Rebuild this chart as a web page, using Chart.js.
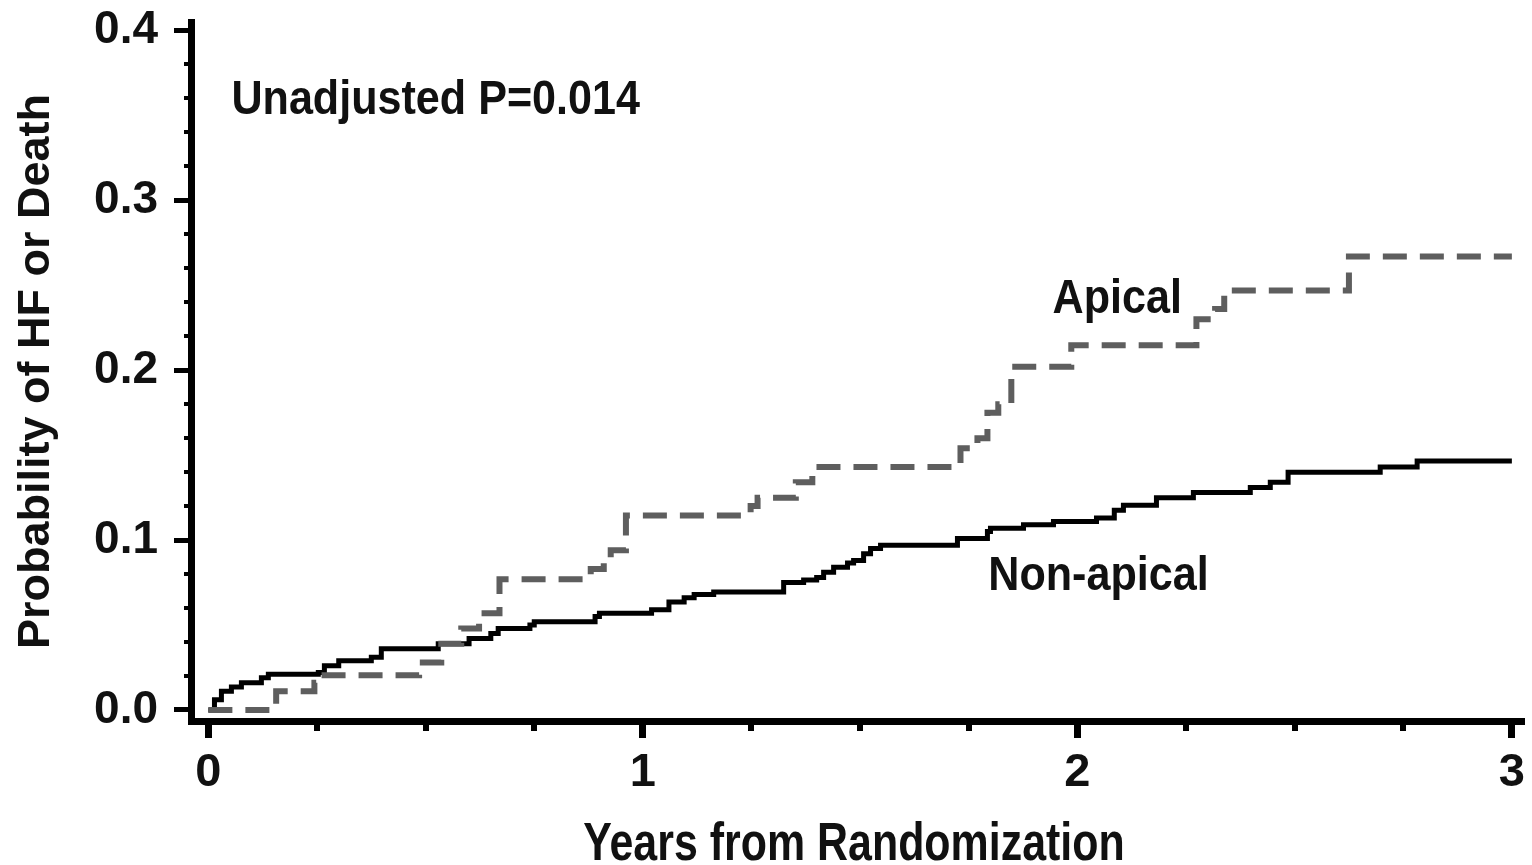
<!DOCTYPE html>
<html>
<head>
<meta charset="utf-8">
<script src="https://cdn.jsdelivr.net/npm/chart.js@4.4.1/dist/chart.umd.min.js"></script>
<style>
  html, body { margin: 0; padding: 0; background: #fff; }
</style>
</head>
<body>
<canvas id="km" width="1532" height="865"></canvas>
<script>
// axis ticks
const xTicks = [0, 1, 2, 3]
const yTicks = [0, 0.1, 0.2, 0.3, 0.4]
const xMinor = [0.25, 0.5, 0.75, 1.25, 1.5, 1.75, 2.25, 2.5, 2.75]
const yMinor = [0.02, 0.04, 0.06, 0.08, 0.12, 0.14, 0.16, 0.18, 0.22, 0.24, 0.26, 0.28, 0.32, 0.34, 0.36, 0.38]

// Apical (cumulative probability of HF or death, step after each event time)
const apicalT = [0, 0.156, 0.244, 0.256, 0.485, 0.536, 0.582, 0.623, 0.67, 0.88, 0.91, 0.926, 0.961,
  1.248, 1.264, 1.352, 1.39, 1.731, 1.77, 1.793, 1.818, 1.848, 1.986, 2.274, 2.317, 2.338, 2.625, 3.0]
const apicalP = [0, 0.011, 0.016, 0.0205, 0.028, 0.039, 0.048, 0.057, 0.077, 0.083, 0.088, 0.094, 0.1145,
  0.12, 0.125, 0.134, 0.143, 0.154, 0.16, 0.175, 0.18, 0.202, 0.2147, 0.23, 0.236, 0.247, 0.267, 0.267]

// Non-apical
const nonApicalT = [0, 0.014, 0.03, 0.053, 0.076, 0.122, 0.138, 0.253, 0.267, 0.30, 0.375, 0.398, 0.529, 0.60,
  0.65, 0.667, 0.74, 0.75, 0.89, 0.90, 1.02, 1.06, 1.095, 1.118, 1.163, 1.324, 1.37, 1.40, 1.416, 1.439,
  1.471, 1.485, 1.508, 1.524, 1.547, 1.724, 1.793, 1.80, 1.876, 1.945, 2.044, 2.085, 2.106, 2.182, 2.267,
  2.398, 2.444, 2.485, 2.697, 2.782, 3.0]
const nonApicalP = [0, 0.006, 0.011, 0.0135, 0.016, 0.019, 0.021, 0.022, 0.026, 0.029, 0.031, 0.036, 0.039, 0.042,
  0.045, 0.048, 0.050, 0.052, 0.055, 0.057, 0.059, 0.0635, 0.066, 0.068, 0.0695, 0.075, 0.0765, 0.078, 0.081, 0.084,
  0.0865, 0.088, 0.092, 0.095, 0.097, 0.101, 0.105, 0.107, 0.109, 0.111, 0.113, 0.1175, 0.1205, 0.125, 0.128,
  0.131, 0.134, 0.14, 0.143, 0.1465, 0.1465]

// text placed in the plot (data coords of left end / baseline)
const notes = [
  { text: "Unadjusted P=0.014", x: 0.053, y: 0.351 },
  { text: "Apical", x: 1.943, y: 0.2335 },
  { text: "Non-apical", x: 1.795, y: 0.0706 },
]
const xTitle = "Years from Randomization"

const SANS = "'Liberation Sans', Arial, sans-serif"

const toPoints = (ts, ps) => ts.map((t, i) => ({ x: t, y: ps[i] }))

// condensed bold text, the source figure uses a narrow face
function narrowText(ctx, text, x, y, size, squeeze, align) {
  ctx.save()
  ctx.font = `bold ${size}px ${SANS}`
  ctx.textBaseline = "alphabetic"
  ctx.textAlign = align
  ctx.translate(x, y)
  ctx.scale(squeeze, 1)
  ctx.fillText(text, 0, 0)
  ctx.restore()
}

const extras = {
  id: "extras",
  afterDraw(chart) {
    const { ctx, chartArea, scales: { x, y } } = chart
    ctx.save()
    ctx.fillStyle = "#000"
    xMinor.forEach(v => {
      const px = x.getPixelForValue(v)
      ctx.fillRect(Math.round(px) - 3, chartArea.bottom, 6, 10)
    })
    yMinor.forEach(v => {
      const py = y.getPixelForValue(v)
      ctx.fillRect(chartArea.left - 7, Math.round(py) - 2, 4, 4)
    })
    ctx.fillStyle = "#111"
    notes.forEach(n => narrowText(ctx, n.text, x.getPixelForValue(n.x), y.getPixelForValue(n.y), 49, 0.88, "left"))
    narrowText(ctx, xTitle, (chartArea.left + chartArea.right) / 2 - 4, 860, 53, 0.81, "center")
    ctx.restore()
  }
}

new Chart(document.getElementById("km"), {
  type: "line",
  data: {
    datasets: [
      {
        label: "Apical",
        data: toPoints(apicalT, apicalP),
        borderColor: "#5e5e5e",
        borderWidth: 6,
        borderDash: [24, 13],
        borderCapStyle: "butt",
        stepped: "before",
        pointRadius: 0,
        fill: false,
      },
      {
        label: "Non-apical",
        data: toPoints(nonApicalT, nonApicalP),
        borderColor: "#000",
        borderWidth: 5,
        stepped: "before",
        pointRadius: 0,
        fill: false,
      },
    ],
  },
  options: {
    responsive: false,
    animation: false,
    layout: { autoPadding: false, padding: { left: 0, top: 22, right: 7, bottom: 0 } },
    plugins: { legend: { display: false }, tooltip: { enabled: false } },
    scales: {
      x: {
        type: "linear",
        min: -0.04,
        max: 3.03,
        afterBuildTicks: s => { s.ticks = xTicks.map(v => ({ value: v })) },
        afterFit: s => { s.height = 144 },
        grid: { drawOnChartArea: false, tickLength: 17, tickWidth: 7, tickColor: "#000" },
        border: { color: "#000", width: 7 },
        ticks: {
          color: "#111",
          padding: 7,
          font: { family: SANS, size: 47, weight: "bold", lineHeight: 1.2 },
          callback: v => String(v),
        },
      },
      y: {
        min: -0.0065,
        max: 0.405,
        afterBuildTicks: s => { s.ticks = yTicks.map(v => ({ value: v })) },
        // fixed width, and no extra room reserved above the top label
        afterFit: s => { s.width = 191; s.paddingTop = 0; s.paddingBottom = 0 },
        grid: { drawOnChartArea: false, tickLength: 17, tickWidth: 5, tickColor: "#000" },
        border: { color: "#000", width: 7 },
        ticks: {
          color: "#111",
          padding: 16,
          font: { family: SANS, size: 46, weight: "bold", lineHeight: 0.6 },
          callback: v => v.toFixed(1),
        },
        title: {
          display: true,
          text: "Probability of HF or Death",
          color: "#111",
          padding: { top: 10, bottom: 0 },
          font: { family: SANS, size: 45, weight: "bold", lineHeight: 1.2 },
        },
      },
    },
  },
  plugins: [extras],
})
</script>
</body>
</html>
